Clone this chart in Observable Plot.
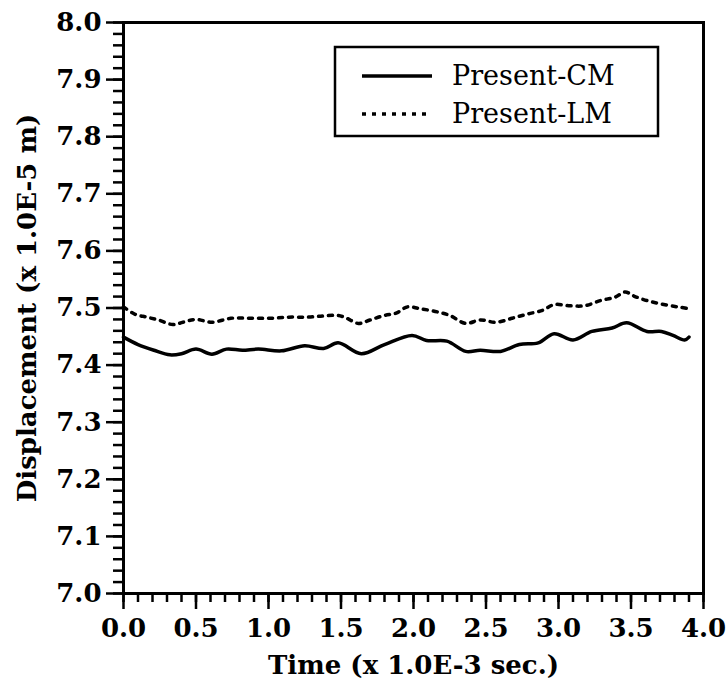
<!DOCTYPE html>
<html>
<head>
<meta charset="utf-8">
<script src="https://cdn.jsdelivr.net/npm/d3@7"></script>
<script src="https://cdn.jsdelivr.net/npm/@observablehq/plot@0.6"></script>
<style>
  html, body { margin: 0; padding: 0; background: white; }
</style>
</head>
<body>
<div id="chart"></div>
<script>
// Data
const timeCM = [0.0, 0.10, 0.21, 0.32, 0.40, 0.50, 0.61, 0.71, 0.82, 0.93, 1.09, 1.25, 1.38, 1.48, 1.64, 1.80, 1.99, 2.09, 2.23, 2.36, 2.46, 2.60, 2.73, 2.86, 2.97, 3.10, 3.23, 3.37, 3.47, 3.61, 3.71, 3.79, 3.87, 3.90];
const dispCM = [7.449, 7.436, 7.426, 7.418, 7.420, 7.428, 7.419, 7.428, 7.426, 7.428, 7.425, 7.434, 7.429, 7.439, 7.420, 7.436, 7.452, 7.443, 7.442, 7.424, 7.426, 7.424, 7.436, 7.439, 7.455, 7.444, 7.459, 7.465, 7.474, 7.459, 7.459, 7.452, 7.444, 7.449];
const timeLM = [0.0, 0.08, 0.16, 0.24, 0.34, 0.41, 0.50, 0.61, 0.74, 0.87, 1.01, 1.14, 1.27, 1.38, 1.48, 1.54, 1.62, 1.70, 1.80, 1.88, 1.96, 2.04, 2.15, 2.25, 2.36, 2.46, 2.57, 2.68, 2.78, 2.89, 2.97, 3.07, 3.18, 3.29, 3.39, 3.46, 3.52, 3.61, 3.71, 3.82, 3.90];
const dispLM = [7.502, 7.489, 7.484, 7.479, 7.471, 7.475, 7.480, 7.475, 7.482, 7.482, 7.482, 7.484, 7.484, 7.486, 7.487, 7.482, 7.473, 7.479, 7.487, 7.491, 7.502, 7.499, 7.494, 7.487, 7.473, 7.479, 7.475, 7.482, 7.489, 7.496, 7.506, 7.504, 7.504, 7.513, 7.519, 7.528, 7.521, 7.513, 7.507, 7.502, 7.499];
const xMajor = [0, 0.5, 1.0, 1.5, 2.0, 2.5, 3.0, 3.5, 4.0];
const xMinor = d3.range(0, 41).map(i => i / 10);
const yMajor = d3.range(0, 11).map(i => 7 + i / 10);
const yMinor = d3.range(0, 51).map(i => 7 + i / 50);
const seriesNames = ["Present-CM", "Present-LM"];

const cm = timeCM.map((t, i) => ({t, v: dispCM[i]}));
const lm = timeLM.map((t, i) => ({t, v: dispLM[i]}));

const plot = Plot.plot({
  width: 726,
  height: 690,
  marginLeft: 123,
  marginRight: 23,
  marginTop: 22,
  marginBottom: 97,
  style: {fontFamily: "DejaVu Serif", fontWeight: "bold", fontSize: "26px", color: "black", background: "white"},
  x: {domain: [0, 4]},
  y: {domain: [7, 8]},
  marks: [
    Plot.axisY(yMinor, {tickSize: 10, text: null, strokeWidth: 2.5, label: null}),
    Plot.axisY(yMajor, {tickSize: 17, tickFormat: d3.format(".1f"), strokeWidth: 2.5, tickPadding: 5, fontSize: 26,
      label: "Displacement (x 1.0E-5 m)", labelAnchor: "center", labelArrow: "none", labelOffset: 106}),
    Plot.axisX(xMinor, {tickSize: 9, text: null, strokeWidth: 2.5, label: null}),
    Plot.axisX(xMajor, {tickSize: 16, tickFormat: d3.format(".1f"), strokeWidth: 2.5, tickPadding: 9, fontSize: 26,
      label: "Time (x 1.0E-3 sec.)", labelAnchor: "center", labelArrow: "none", labelOffset: 80}),
    Plot.frame({strokeWidth: 3}),
    Plot.line(cm, {x: "t", y: "v", stroke: "black", strokeWidth: 3.5, curve: "catmull-rom"}),
    Plot.line(lm, {x: "t", y: "v", stroke: "black", strokeWidth: 3.5, strokeDasharray: "4,6", curve: "catmull-rom"})
  ]
});

// Legend box inside the plot (layout only)
const svg = d3.select(plot);
const lg = svg.append("g")
  .attr("font-family", "DejaVu Serif")
  .attr("font-weight", "normal")
  .attr("font-size", 27)
  .attr("text-anchor", "start");
lg.append("rect").attr("x", 335).attr("y", 47).attr("width", 323).attr("height", 89)
  .attr("fill", "white").attr("stroke", "black").attr("stroke-width", 2.5);
seriesNames.forEach((name, i) => {
  const y = 76 + i * 38;
  lg.append("line").attr("x1", 362).attr("x2", 432).attr("y1", y).attr("y2", y)
    .attr("stroke", "black").attr("stroke-width", 3.5)
    .attr("stroke-dasharray", i === 1 ? "4,6" : null);
  lg.append("text").attr("x", 452).attr("y", y).attr("dy", "0.35em").text(name);
});

document.getElementById("chart").appendChild(plot);
</script>
</body>
</html>
